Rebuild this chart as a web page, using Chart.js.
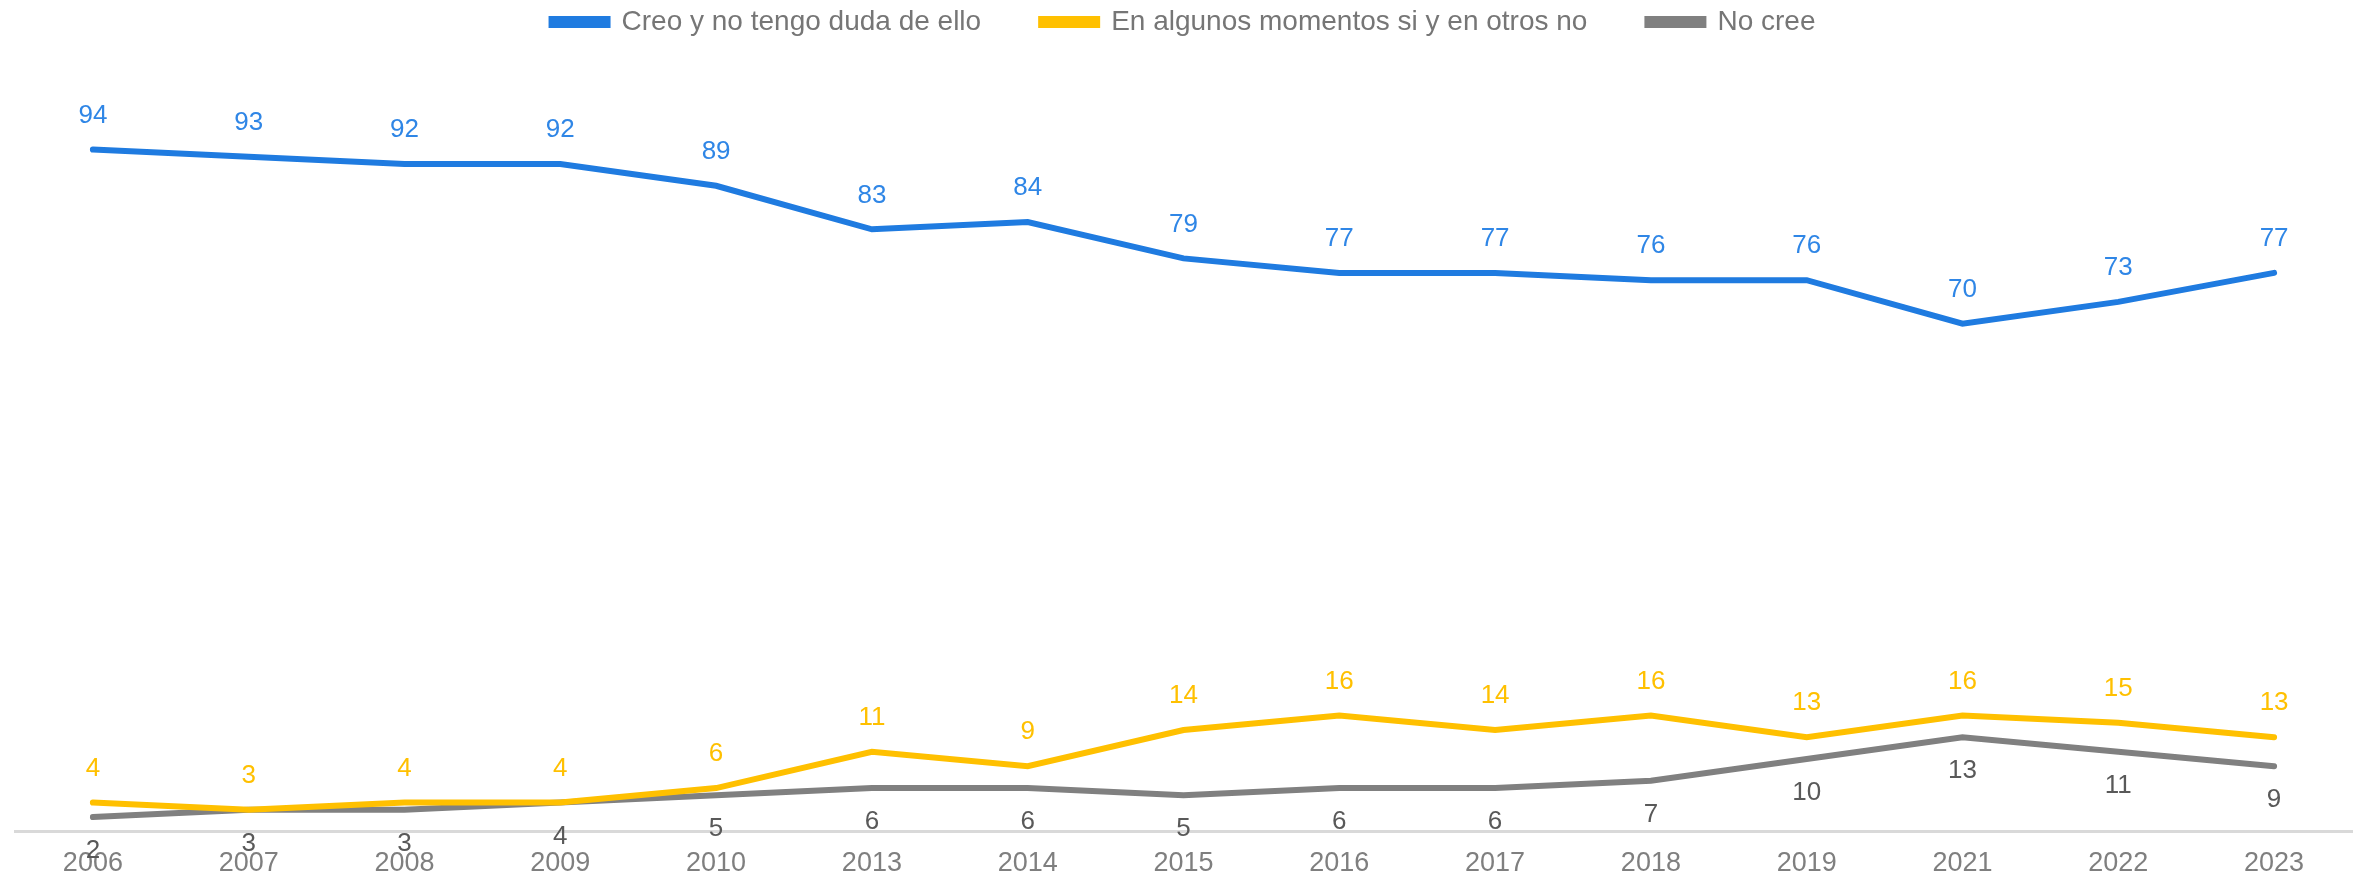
<!DOCTYPE html>
<html lang="es">
<head>
<meta charset="utf-8">
<script src="https://cdn.jsdelivr.net/npm/chart.js@4/dist/chart.umd.min.js"></script>
<style>
  html, body { margin: 0; padding: 0; background: #fff; overflow: hidden; }
  canvas { display: block; }
</style>
</head>
<body>
<!-- 10px taller than the window so the axis sits where the original has it -->
<canvas id="chart" width="2356" height="896"></canvas>

<script>
"use strict";

// years on the x axis
var years = ['2006','2007','2008','2009','2010','2013','2014','2015','2016','2017','2018','2019','2021','2022','2023'];

// series
var creo     = [94, 93, 92, 92, 89, 83, 84, 79, 77, 77, 76, 76, 70, 73, 77];
var algunos  = [4, 3, 4, 4, 6, 11, 9, 14, 16, 14, 16, 13, 16, 15, 13];
var noCree   = [2, 3, 3, 4, 5, 6, 6, 5, 6, 6, 7, 10, 13, 11, 9];

var seriesNames = ['Creo y no tengo duda de ello', 'En algunos momentos si y en otros no', 'No cree'];

var FONT = "'Liberation Sans', Arial, sans-serif";

// draws the value next to each point, above or below
var pointLabels = {
  id: 'pointLabels',
  afterDatasetsDraw: function(chart) {
    var ctx = chart.ctx;
    ctx.save();
    ctx.font = '26px ' + FONT;
    ctx.textAlign = 'center';
    ctx.textBaseline = 'middle';
    chart.data.datasets.forEach(function(ds, i) {
      var meta = chart.getDatasetMeta(i);
      ctx.fillStyle = ds.labelColor;
      meta.data.forEach(function(pt, j) {
        var dy = ds.labelBelow ? 34 : -34;
        ctx.fillText(String(ds.data[j]), pt.x, pt.y + dy);
      });
    });
    ctx.restore();
  }
};

// a bit more room under the legend
var legendGap = {
  id: 'legendGap',
  beforeInit: function(chart) {
    var fit = chart.legend.fit;
    chart.legend.fit = function() {
      fit.bind(chart.legend)();
      this.height += 60;
    };
  }
};

function createchart() {
  var ctx1 = document.getElementById('chart');
  new Chart(ctx1, {
    type: 'line',
    data: {
      labels: years,
      datasets: [{
        label: seriesNames[0],
        data: creo,
        borderColor: '#1f7be0',
        backgroundColor: '#1f7be0',
        labelColor: '#2f86e6',
        labelBelow: false,
        borderWidth: 6,
        pointRadius: 0,
        tension: 0,
        borderCapStyle: 'round'
      }, {
        label: seriesNames[1],
        data: algunos,
        borderColor: '#ffc000',
        backgroundColor: '#ffc000',
        labelColor: '#ffc000',
        labelBelow: false,
        borderWidth: 6,
        pointRadius: 0,
        tension: 0,
        borderCapStyle: 'round'
      }, {
        label: seriesNames[2],
        data: noCree,
        borderColor: '#808080',
        backgroundColor: '#808080',
        labelColor: '#595959',
        labelBelow: true,
        borderWidth: 6,
        pointRadius: 0,
        tension: 0,
        borderCapStyle: 'round'
      }]
    },
    options: {
      responsive: false,
      animation: false,
      devicePixelRatio: 1,
      layout: { padding: { left: 15, right: 4, top: -52, bottom: 0 } },
      plugins: {
        tooltip: { enabled: false },
        legend: {
          position: 'top',
          labels: {
            boxWidth: 56,
            boxHeight: 6,
            padding: 60,
            color: '#767676',
            font: { family: FONT, size: 28 }
          }
        }
      },
      scales: {
        x: {
          offset: true,
          grid: { display: false, drawTicks: false },
          border: { display: true, color: '#d9d9d9', width: 3 },
          ticks: {
            color: '#7f7f7f',
            padding: 16,
            maxRotation: 0,
            autoSkip: false,
            font: { family: FONT, size: 27 }
          }
        },
        y: {
          display: false,
          min: 0,
          max: 100
        }
      }
    },
    plugins: [pointLabels, legendGap]
  });
}

createchart();
</script>
</body>
</html>
